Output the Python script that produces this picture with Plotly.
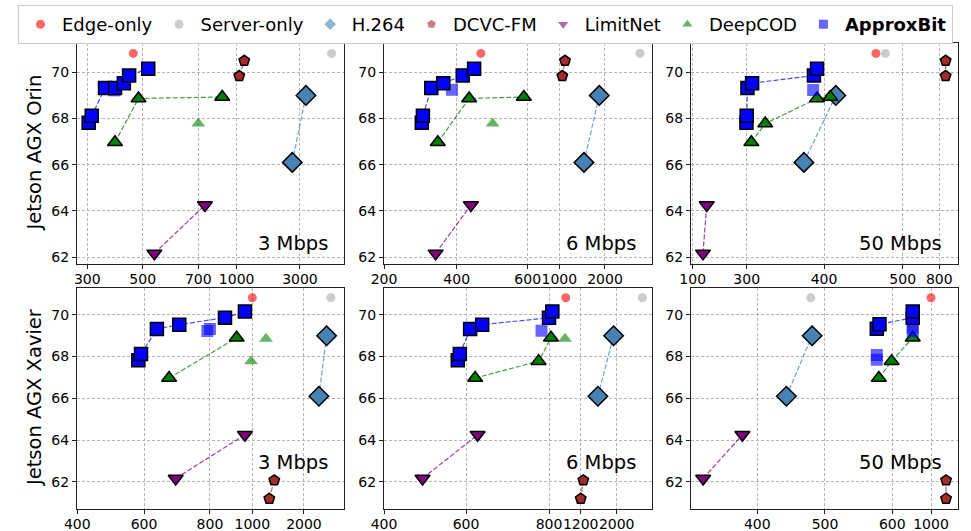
import numpy as np
import plotly.graph_objects as go

# ------------------------------------------------------------------ data
devices = ["Jetson AGX Orin", "Jetson AGX Xavier"]
bandwidths = ["3 Mbps", "6 Mbps", "50 Mbps"]
# panel order: Orin-3, Orin-6, Orin-50, Xavier-3, Xavier-6, Xavier-50

x_tick_values = [
    [300, 500, 700, 1000, 3000],
    [200, 400, 600, 1000, 2000],
    [100, 300, 400, 500, 800],
    [400, 600, 800, 1000, 2000],
    [400, 600, 800, 1200, 2000],
    [400, 500, 600, 1000],
]
y_tick_values = [62, 64, 66, 68, 70]

edge_lat = [466, 468, 466, 1000, 1011, 1000]
edge_acc = [70.82] * 6

server_lat = [4000, 2766, 478, 2522, 2571, 479]
server_acc = [70.82] * 6

h264_lat = [[2757, 3190], [1540, 1875], [374, 415], [2290, 2439], [1582, 1931], [443, 481]]
h264_acc = [[66.1, 69.0]] * 6

dcvc_lat = [[1082, 1240], [1066, 1125], [852, 852], [1329, 1425], [1200, 1258], [1155, 1155]]
dcvc_acc = [[69.84, 70.5]] * 3 + [[61.19, 62.07]] * 3

limitnet_lat = [[542, 752], [342, 440], [138, 152], [696, 965], [494, 628], [320, 378]]
limitnet_acc = [[62.16, 64.25]] * 6

deepcod_lat = [[400, 485, 887], [348, 435, 589], [306, 324, 391, 408],
               [676, 926], [622, 775, 825], [580, 599, 811]]
deepcod_acc = [[66.97, 68.87, 68.93], [66.97, 68.87, 68.93], [66.97, 67.78, 68.87, 68.93],
               [66.97, 68.9], [66.97, 67.78, 68.9], [66.97, 67.78, 68.9]]
deepcod_dom_lat = [[700], [501], [], [994, 1265], [1002], []]
deepcod_dom_acc = [[67.78], [67.78], [], [67.78, 68.85], [68.85], []]

approx_lat = [[305, 316, 364, 400, 432, 451, 520],
              [304, 307, 330, 363, 417, 449],
              [299, 300, 301, 307, 387, 391],
              [583, 591, 639, 707, 871, 965],
              [580, 585, 610, 639, 800, 842],
              [577, 581, 811, 811]]
approx_acc = [[67.82, 68.12, 69.32, 69.32, 69.53, 69.86, 70.16],
              [67.82, 68.12, 69.32, 69.53, 69.86, 70.16],
              [67.82, 68.12, 69.32, 69.53, 69.86, 70.16],
              [67.82, 68.12, 69.32, 69.53, 69.86, 70.16],
              [67.82, 68.12, 69.32, 69.53, 69.86, 70.16],
              [69.33, 69.55, 69.86, 70.16]]
approx_dom_lat = [[398], [387], [386], [792, 800], [782], [577, 577, 811, 811]]
approx_dom_acc = [[69.22], [69.25], [69.24], [69.22, 69.32], [69.24], [67.85, 68.08, 69.22, 69.38]]

# ------------------------------------------------------------------ layout / scales
W, H = 971, 531
FONT = "DejaVu Sans"
col_px = [(77, 344), (384, 651.7), (691, 957.7)]
row_px = [(43, 264), (287.5, 508.7)]
y_ranges = [(61.7, 71.27), (60.71, 71.31)]
# piecewise-linear x scale: fraction of axis width where each tick value sits
tick_frac = [
    [0.0386, 0.246, 0.4543, 0.598, 0.835],
    [0.0, 0.2716, 0.5368, 0.6548, 0.8255],
    [0.0064, 0.2088, 0.4987, 0.7938, 0.931],
    [0.001, 0.251, 0.498, 0.6566, 0.850],
    [0.0, 0.3063, 0.6164, 0.7348, 0.8693],
    [0.2486, 0.5024, 0.7548, 0.90],
]


def make_scale(vals, fracs):
    vals = np.asarray(vals, float)
    fracs = np.asarray(fracs, float)
    s0 = (fracs[1] - fracs[0]) / (vals[1] - vals[0])
    s1 = (fracs[-1] - fracs[-2]) / (vals[-1] - vals[-2])

    def f(v):
        v = np.asarray(v, float)
        out = np.interp(v, vals, fracs)
        out = np.where(v < vals[0], fracs[0] + (v - vals[0]) * s0, out)
        out = np.where(v > vals[-1], fracs[-1] + (v - vals[-1]) * s1, out)
        return out
    return f


scales = [make_scale(v, f) for v, f in zip(x_tick_values, tick_frac)]

fig = go.Figure()

styles = {
    "Edge-only": dict(symbol="circle", color="rgba(255,0,0,0.6)", size=9),
    "Server-only": dict(symbol="circle", color="#cccccc", size=9),
    "H.264": dict(symbol="diamond", color="steelblue", size=15),
    "DCVC-FM": dict(symbol="pentagon", color="#a52a2a", size=11),
    "LimitNet": dict(symbol="triangle-down", color="purple", size=13),
    "DeepCOD": dict(symbol="triangle-up", color="green", size=13),
    "ApproxBit": dict(symbol="square", color="blue", size=13),
}
legend_colors = {
    "Edge-only": "rgba(255,0,0,0.6)",
    "Server-only": "#cccccc",
    "H.264": "rgba(70,130,180,0.6)",
    "DCVC-FM": "rgba(165,42,42,0.6)",
    "LimitNet": "rgba(128,0,128,0.6)",
    "DeepCOD": "rgba(0,128,0,0.6)",
    "ApproxBit": "rgba(0,0,255,0.6)",
}
line_colors = {
    "H.264": "rgba(70,130,180,0.75)",
    "DCVC-FM": "rgba(165,42,42,0.75)",
    "LimitNet": "rgba(128,0,128,0.75)",
    "DeepCOD": "rgba(0,128,0,0.75)",
    "ApproxBit": "rgba(0,0,255,0.7)",
}

# legend-only entries
for name, st in styles.items():
    label = "<b>ApproxBit</b>" if name == "ApproxBit" else name
    fig.add_trace(go.Scatter(x=[None], y=[None], mode="markers", name=label,
                             marker=dict(symbol=st["symbol"], size=9, color=legend_colors[name],
                                         line=dict(width=0)),
                             xaxis="x", yaxis="y", showlegend=True))


def ax(p):
    return ("x" if p == 0 else f"x{p+1}"), ("y" if p == 0 else f"y{p+1}")


def add(p, name, lat, acc, lines=True, faded=False):
    if len(lat) == 0:
        return
    xa, ya = ax(p)
    st = styles[name]
    f = scales[p]
    if faded:
        mk = dict(symbol=st["symbol"], size=st["size"] - 1,
                  color=legend_colors[name], line=dict(width=0))
    elif name in ("Edge-only", "Server-only"):
        mk = dict(symbol=st["symbol"], size=st["size"], color=st["color"], line=dict(width=0))
    else:
        mk = dict(symbol=st["symbol"], size=st["size"], color=st["color"],
                  line=dict(color="black", width=1.5))
    fig.add_trace(go.Scatter(
        x=f(lat), y=acc, mode="lines+markers" if lines else "markers",
        marker=mk,
        line=dict(color=line_colors.get(name, "gray"), width=1.2, dash="5px,2px"),
        xaxis=xa, yaxis=ya, showlegend=False, hoverinfo="skip"))


for p in range(6):
    add(p, "Edge-only", [edge_lat[p]], [edge_acc[p]], lines=False)
    add(p, "Server-only", [server_lat[p]], [server_acc[p]], lines=False)
    add(p, "H.264", h264_lat[p], h264_acc[p])
    add(p, "DCVC-FM", dcvc_lat[p], dcvc_acc[p])
    add(p, "LimitNet", limitnet_lat[p], limitnet_acc[p])
    add(p, "DeepCOD", deepcod_dom_lat[p], deepcod_dom_acc[p], lines=False, faded=True)
    add(p, "DeepCOD", deepcod_lat[p], deepcod_acc[p])
    add(p, "ApproxBit", approx_dom_lat[p], approx_dom_acc[p], lines=False, faded=True)
    add(p, "ApproxBit", approx_lat[p], approx_acc[p])

layout = {}
annotations = []
for p in range(6):
    r, c = divmod(p, 3)
    xk = "xaxis" if p == 0 else f"xaxis{p+1}"
    yk = "yaxis" if p == 0 else f"yaxis{p+1}"
    xa, ya = ax(p)
    x0, x1 = col_px[c]
    y0, y1 = row_px[r]
    f = scales[p]
    common = dict(showline=True, linecolor="#222222", linewidth=1, mirror=True,
                  ticks="outside", ticklen=4, tickwidth=1, tickcolor="#222222",
                  showgrid=True, gridcolor="#b5b5b5", gridwidth=0.8, griddash="3px,2px",
                  zeroline=False, automargin=False, tickangle=0,
                  tickfont=dict(family=FONT, size=14, color="black"))
    layout[xk] = dict(domain=[x0 / W, x1 / W], range=[0, 1], anchor=ya,
                      tickmode="array", tickvals=list(f(x_tick_values[p])),
                      ticktext=[str(v) for v in x_tick_values[p]],
                      ticklabelstandoff=-2, **common)
    layout[yk] = dict(domain=[1 - y1 / H, 1 - y0 / H], range=list(y_ranges[r]), anchor=xa,
                      tickmode="array", tickvals=y_tick_values,
                      ticktext=[str(v) for v in y_tick_values], **common)
    annotations.append(dict(text=bandwidths[c], xref=f"{xa} domain", yref=f"{ya} domain",
                            x=0.948, y=0.094 if r == 0 else 0.21, xanchor="right", yanchor="middle",
                            showarrow=False, font=dict(family=FONT, size=19.5, color="black")))

for r in range(2):
    y0, y1 = row_px[r]
    annotations.append(dict(text=devices[r], xref="paper", yref="paper",
                            x=34 / W, y=1 - (y0 + y1) / 2 / H, textangle=-90,
                            xanchor="center", yanchor="middle", showarrow=False,
                            font=dict(family=FONT, size=19.5, color="black")))

fig.update_layout(
    width=W, height=H, margin=dict(l=0, r=0, t=0, b=0, autoexpand=False),
    paper_bgcolor="white", plot_bgcolor="white",
    font=dict(family=FONT, color="black"),
    annotations=annotations,
    legend=dict(orientation="h", x=0.5, xanchor="center", y=1 - 5 / H, yanchor="top",
                bordercolor="#cccccc", borderwidth=1, bgcolor="white", itemwidth=33,
                font=dict(family=FONT, size=18, color="black"), itemsizing="trace"),
    **layout,
)

fig.write_html("out.html")
